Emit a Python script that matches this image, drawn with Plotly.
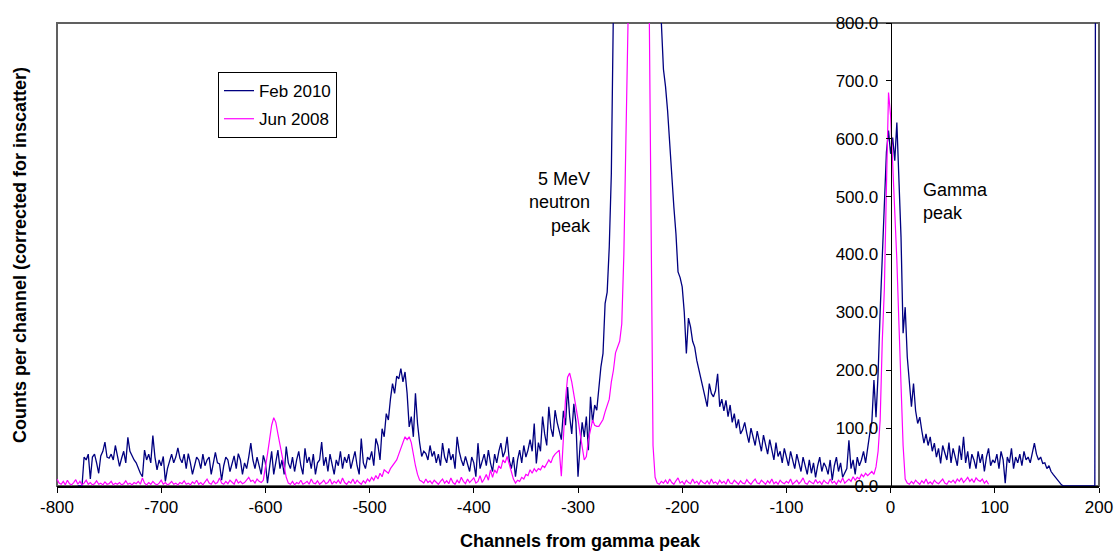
import plotly.graph_objects as go

# ---- Data (channels relative to gamma peak, step of 2 channels) ----
feb_start = -780
feb_step = 2
feb_2010 = [
    0, 0, 0, 50, 45, 55, 12, 50, 55, 40,
    22, 52, 60, 76, 50, 48, 55, 45, 70, 52,
    34, 48, 60, 40, 84, 60, 52, 45, 40, 30,
    22, 16, 62, 45, 55, 40, 87, 50, 28, 45,
    35, 51, 8, 30, 45, 55, 40, 50, 66, 48,
    40, 55, 30, 56, 40, 20, 35, 50, 45, 30,
    55, 35, 45, 50, 20, 40, 58, 40, 38, 10,
    35, 50, 45, 25, 40, 52, 30, 56, 45, 20,
    40, 30, 50, 74, 45, 30, 50, 35, 20, 53,
    40, 5, 35, 60, 20, 45, 62, 30, 45, 20,
    68, 40, 30, 50, 25, 45, 60, 35, 20, 65,
    40, 50, 30, 55, 20, 40, 45, 76, 35, 50,
    25, 55, 40, 20, 45, 35, 60, 30, 50, 40,
    55, 30, 45, 60, 35, 20, 82, 40, 30, 50,
    45, 60, 35, 82, 70, 45, 99, 85, 125, 114,
    150, 177, 160, 190, 185, 203, 180, 197, 160, 102,
    120, 85, 160, 108, 75, 51, 60, 56, 45, 70,
    51, 60, 40, 55, 35, 74, 50, 40, 65, 45,
    55, 30, 85, 60, 45, 35, 51, 40, 25, 50,
    40, 16, 74, 30, 45, 55, 35, 62, 40, 25,
    55, 40, 60, 74, 50, 60, 85, 45, 30, 50,
    16, 45, 62, 40, 70, 50, 62, 80, 60, 108,
    39, 75, 60, 120, 90, 70, 137, 100, 85, 131,
    110, 97, 80, 130, 105, 171, 120, 90, 142, 110,
    16, 70, 110, 85, 120, 62, 154, 110, 140, 131,
    171, 206, 229, 315, 335, 413, 540, 850, 1300, 1800,
    2200, 2500, 2700, 2800, 2850, 2800, 2700, 2500, 2300, 2100,
    1900, 1700, 1500, 1300, 1150, 1050, 980, 920, 880, 840,
    800, 720, 690, 648, 590, 520, 482, 436, 370, 360,
    344, 300, 229, 290, 275, 250, 240, 217, 200, 183,
    170, 150, 137, 177, 160, 154, 165, 194, 137, 150,
    130, 148, 120, 140, 110, 125, 100, 115, 90, 97,
    110, 91, 75, 100, 85, 70, 95, 79, 60, 88,
    70, 55, 80, 62, 45, 75, 51, 60, 40, 65,
    50, 35, 60, 45, 30, 55, 39, 25, 50, 35,
    20, 45, 22, 40, 15, 35, 50, 25, 40, 33,
    20, 45, 10, 35, 50, 25, 40, 15, 22, 30,
    79, 30, 45, 20, 50, 35, 45, 60, 40, 70,
    91, 110, 183, 119, 194, 303, 400, 482, 577, 614,
    574, 602, 562, 628, 539, 430, 264, 309, 223, 183,
    137, 177, 130, 108, 119, 95, 74, 90, 70, 85,
    60, 74, 50, 65, 39, 70, 55, 45, 75, 40,
    65, 50, 35, 70, 45, 85, 40, 60, 30, 55,
    45, 30, 60, 40, 55, 25, 50, 65, 35, 45,
    40, 55, 30, 60, 45, 5, 50, 40, 65, 30,
    50, 40, 55, 35, 60, 45, 50, 40, 60, 74,
    55, 45, 50, 39, 40, 30, 35, 25, 20, 15,
    10, 5, 2, 0, 0, 0, 0, 0, 0, 0,
    0, 0, 0, 0, 0, 0, 0, 0, 0, 3000,
]

jun_start = -800
jun_step = 2
jun_2008 = [
    12, 5, 3, 8, 2, 10, 4, 2, 6, 11,
    3, 8, 2, 5, 10, 3, 6, 2, 4, 9,
    3, 5, 2, 7, 3, 4, 8, 2, 5, 3,
    6, 2, 4, 9, 3, 5, 2, 6, 4, 8,
    3, 14, 5, 2, 6, 3, 8, 4, 2, 5,
    10, 3, 6, 2, 4, 8, 3, 5, 2, 6,
    4, 9, 3, 5, 2, 7, 4, 10, 3, 6,
    2, 8, 12, 5, 3, 9, 4, 6, 14, 5,
    3, 8, 4, 10, 6, 3, 12, 5, 8, 4,
    6, 11, 15, 8, 10, 5, 12, 8, 6, 10,
    30, 55, 80, 105, 118, 110, 90, 70, 50, 35,
    15, 5, 3, 8, 2, 6, 4, 10, 3, 5,
    8, 3, 12, 5, 4, 9, 3, 6, 10, 4,
    6, 12, 3, 8, 5, 10, 4, 14, 6, 3,
    8, 5, 12, 4, 10, 6, 3, 9, 5, 12,
    8, 15, 10, 18, 12, 22, 16, 28, 25, 22,
    30, 35, 40, 45, 55, 65, 74, 85, 80, 85,
    75, 51, 35, 20, 10, 8, 5, 12, 6, 9,
    4, 10, 6, 3, 8, 12, 5, 9, 4, 14,
    6, 3, 10, 5, 15, 8, 4, 12, 6, 10,
    14, 5, 8, 18, 6, 12, 20, 10, 28, 15,
    28, 22, 35, 30, 45, 40, 51, 38, 25, 12,
    5, 10, 8, 15, 12, 20, 18, 28, 22, 30,
    25, 30, 28, 35, 32, 39, 45, 40, 50, 55,
    58, 62, 17, 80, 150, 188, 195, 180, 160, 137,
    115, 91, 70, 45, 51, 80, 97, 114, 105, 103,
    103, 110, 115, 128, 140, 150, 180, 200, 230, 240,
    250, 280, 400, 600, 1000, 1300, 1500, 1650, 1750, 1800,
    1750, 1650, 1450, 1200, 900, 400, 70, 15, 5, 3,
    8, 5, 10, 4, 12, 6, 3, 9, 14, 5,
    8, 3, 10, 6, 4, 12, 5, 8, 3, 10,
    6, 4, 9, 3, 12, 5, 7, 3, 10, 5,
    8, 3, 12, 5, 4, 10, 6, 3, 9, 5,
    4, 11, 6, 3, 8, 12, 5, 4, 10, 6,
    3, 9, 5, 12, 4, 7, 3, 10, 6, 4,
    8, 5, 12, 3, 6, 10, 4, 8, 14, 5,
    3, 9, 6, 4, 11, 5, 8, 3, 10, 6,
    4, 12, 5, 8, 3, 10, 6, 14, 5, 9,
    12, 8, 16, 10, 15, 12, 20, 16, 22, 18,
    22, 25, 20, 33, 60, 114, 250, 340, 516, 680,
    640, 560, 470, 390, 280, 180, 70, 12, 5, 3,
    8, 4, 10, 6, 3, 9, 5, 12, 4, 7,
    3, 10, 6, 4, 8, 12, 5, 3, 9, 6,
    10, 5, 12, 8, 14, 6, 10, 15, 8, 12,
    6, 14, 10, 8, 12, 5, 9, 3,
]

x_ticks = [-800, -700, -600, -500, -400, -300, -200, -100, 0, 100, 200]
y_ticks = [0, 100, 200, 300, 400, 500, 600, 700, 800]

feb_x = [feb_start + feb_step * i for i in range(len(feb_2010))]
jun_x = [jun_start + jun_step * i for i in range(len(jun_2008))]

FONT = "Arial, 'Liberation Sans', sans-serif"

fig = go.Figure()
fig.add_trace(go.Scatter(x=feb_x, y=feb_2010, mode="lines", name="Feb 2010",
                         legendgroup="a",
                         line=dict(color="#000080", width=1.3)))
fig.add_trace(go.Scatter(x=jun_x, y=jun_2008, mode="lines", name="Jun 2008",
                         legendgroup="b",
                         line=dict(color="#FF00FF", width=1.2)))

fig.update_layout(
    width=1116, height=551,
    margin=dict(l=57, r=17, t=23, b=65, autoexpand=False),
    paper_bgcolor="white", plot_bgcolor="white",
    font=dict(family=FONT, size=17, color="black"),
    showlegend=True,
    legend=dict(x=0.1545, y=0.894, xanchor="left", yanchor="top",
                bgcolor="white", bordercolor="black", borderwidth=1,
                font=dict(size=17), tracegroupgap=3, itemwidth=30),
    xaxis=dict(range=[-800, 200], tickvals=x_ticks,
               ticktext=[str(v) for v in x_ticks],
               showgrid=False, zeroline=False, showline=True,
               linecolor="black", linewidth=1.5,
               ticks="outside", ticklen=5, tickcolor="black",
               automargin=False,
               tickfont=dict(size=17)),
    yaxis=dict(range=[0, 800], tickvals=y_ticks,
               ticktext=[f"{v:.1f}" for v in y_ticks],
               anchor="free", position=0.8,
               showgrid=False, zeroline=False, showline=True,
               linecolor="black", linewidth=1,
               ticks="outside", ticklen=5, tickcolor="black",
               ticklabelstandoff=4, automargin=False,
               tickfont=dict(size=17)),
    shapes=[dict(type="rect", xref="paper", yref="paper", x0=0, x1=1, y0=0, y1=1,
                 line=dict(color="#606060", width=2), layer="below")],
    annotations=[
        dict(text="<b>Channels from gamma peak</b>", xref="paper", yref="paper",
             x=0.502, y=-0.119, xanchor="center", yanchor="middle",
             showarrow=False, font=dict(size=18)),
        dict(text="<b>Counts per channel (corrected for inscatter)</b>",
             xref="paper", yref="paper", x=-0.036, y=0.5, textangle=-90,
             xanchor="center", yanchor="middle", showarrow=False,
             font=dict(size=18)),
        dict(text="5 MeV<br>neutron<br>peak", xref="x", yref="y",
             x=-285.5, y=490, xanchor="right", yanchor="middle", align="right",
             showarrow=False, font=dict(size=18)),
        dict(text="Gamma<br>peak", xref="x", yref="y",
             x=29, y=491, xanchor="left", yanchor="middle", align="left",
             showarrow=False, font=dict(size=18)),
    ],
)

fig.write_html(
    "out.html",
    config={"displayModeBar": False},
    post_script="document.body.style.margin='0';document.body.style.overflow='hidden';",
)
